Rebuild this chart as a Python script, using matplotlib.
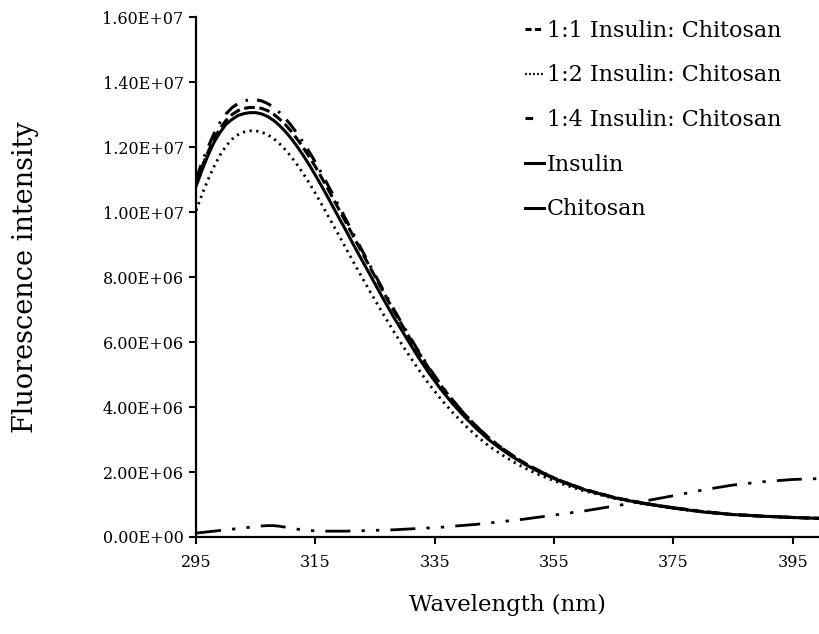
import matplotlib
matplotlib.use("Agg")
import matplotlib.pyplot as plt
from matplotlib.lines import Line2D
import numpy as np

wavelength = [295, 296, 297, 298, 299, 300, 301, 302, 303, 304, 305, 306, 307, 308, 309,
              310, 311, 312, 313, 314, 315, 316, 317, 318, 319, 320,
              322, 324, 326, 328, 330, 332, 334, 336, 338, 340, 342, 344, 346, 348, 350,
              352, 354, 356, 358, 360, 365, 370, 375, 380, 385, 390, 395, 400]

ratio_1_1 = [1.090, 1.140, 1.185, 1.225, 1.257, 1.282, 1.300, 1.312, 1.319, 1.322, 1.322, 1.319,
             1.312, 1.301, 1.286, 1.268, 1.247, 1.223, 1.197, 1.169, 1.139, 1.107, 1.074, 1.040,
             1.006, 0.972, 0.903, 0.835, 0.767, 0.700, 0.637, 0.576, 0.519, 0.467, 0.420, 0.378,
             0.340, 0.306, 0.277, 0.251, 0.228, 0.208, 0.190, 0.174, 0.160, 0.147, 0.122, 0.104,
             0.090, 0.078, 0.069, 0.064, 0.060, 0.057]

ratio_1_2 = [1.005, 1.055, 1.100, 1.140, 1.175, 1.203, 1.224, 1.238, 1.246, 1.250, 1.250, 1.246,
             1.238, 1.226, 1.210, 1.191, 1.169, 1.144, 1.117, 1.088, 1.057, 1.025, 0.992, 0.959,
             0.926, 0.892, 0.825, 0.760, 0.697, 0.636, 0.578, 0.523, 0.471, 0.425, 0.383, 0.345,
             0.311, 0.281, 0.256, 0.233, 0.213, 0.195, 0.180, 0.166, 0.153, 0.142, 0.119, 0.102,
             0.088, 0.077, 0.069, 0.064, 0.060, 0.057]

ratio_1_4 = [1.100, 1.155, 1.200, 1.242, 1.276, 1.302, 1.321, 1.334, 1.342, 1.346, 1.346, 1.342,
             1.334, 1.322, 1.306, 1.287, 1.265, 1.240, 1.213, 1.184, 1.153, 1.120, 1.086, 1.051,
             1.016, 0.981, 0.910, 0.841, 0.772, 0.705, 0.641, 0.580, 0.522, 0.469, 0.421, 0.378,
             0.340, 0.306, 0.277, 0.251, 0.228, 0.208, 0.190, 0.174, 0.160, 0.147, 0.122, 0.104,
             0.090, 0.078, 0.069, 0.064, 0.060, 0.057]

insulin = [1.080, 1.130, 1.175, 1.215, 1.245, 1.270, 1.285, 1.297, 1.303, 1.306, 1.306, 1.302,
           1.294, 1.282, 1.266, 1.247, 1.225, 1.200, 1.173, 1.144, 1.113, 1.081, 1.048, 1.014,
           0.980, 0.947, 0.878, 0.812, 0.745, 0.680, 0.620, 0.560, 0.505, 0.455, 0.410, 0.370,
           0.333, 0.300, 0.272, 0.247, 0.225, 0.205, 0.188, 0.172, 0.158, 0.146, 0.121, 0.103,
           0.089, 0.077, 0.069, 0.064, 0.060, 0.057]

chitosan = [0.012, 0.014, 0.016, 0.018, 0.020, 0.022, 0.024, 0.026, 0.028, 0.030, 0.032, 0.034,
            0.035, 0.035, 0.033, 0.030, 0.027, 0.024, 0.022, 0.020, 0.019, 0.018, 0.018, 0.018,
            0.018, 0.018, 0.019, 0.020, 0.021, 0.022, 0.024, 0.026, 0.028, 0.030, 0.033, 0.036,
            0.039, 0.043, 0.047, 0.051, 0.055, 0.060, 0.065, 0.070, 0.075, 0.080, 0.095, 0.110,
            0.127, 0.145, 0.160, 0.170, 0.177, 0.180]

scale = 1e7
labels = ["1:1 Insulin: Chitosan", "1:2 Insulin: Chitosan", "1:4 Insulin: Chitosan",
          "Insulin", "Chitosan"]
yticks = [0, 2e6, 4e6, 6e6, 8e6, 1e7, 1.2e7, 1.4e7, 1.6e7]
ytick_labels = ["0.00E+00", "2.00E+06", "4.00E+06", "6.00E+06", "8.00E+06",
                "1.00E+07", "1.20E+07", "1.40E+07", "1.60E+07"]
xticks = [295, 315, 335, 355, 375, 395]

plt.rcParams['font.family'] = ['DejaVu Serif']

fig = plt.figure(figsize=(8.19, 6.34), dpi=100)
ax = fig.add_axes([0.2395, 0.153, 0.7605, 0.820])

wl = np.array(wavelength)
ax.plot(wl, np.array(ratio_1_1) * scale, color='black', lw=2.2, linestyle=(0, (3.5, 1.5)))
ax.plot(wl, np.array(ratio_1_2) * scale, color='black', lw=2.0, linestyle=(0, (0.8, 1.6)))
ax.plot(wl, np.array(ratio_1_4) * scale, color='black', lw=2.2, linestyle=(0, (5, 3, 0.8, 3)))
ax.plot(wl, np.array(insulin) * scale, color='black', lw=2.2, linestyle='-')
ax.plot(wl, np.array(chitosan) * scale, color='black', lw=2.0,
        linestyle=(0, (9, 4, 1.2, 4, 1.2, 4)))

ax.set_xlim(295, 399.4)
ax.set_ylim(0, 1.6e7)
ax.set_xticks(xticks)
ax.set_xticklabels([str(t) for t in xticks], fontsize=11.5)
ax.set_yticks(yticks)
ax.set_yticklabels(ytick_labels, fontsize=11.5)
ax.tick_params(direction='out', length=5, width=1.5, color='black', pad=4)
ax.tick_params(axis='x', pad=7)
for s in ['top', 'right']:
    ax.spines[s].set_visible(False)
for s in ['left', 'bottom']:
    ax.spines[s].set_linewidth(1.6)
ax.set_ylabel("Fluorescence intensity", fontsize=19.5)
ax.yaxis.set_label_coords(-0.274, 0.5)
ax.set_xlabel("Wavelength (nm)", fontsize=16.5)
ax.xaxis.set_label_coords(0.5, -0.131)
ax.xaxis.label.set_va('center')
ax.yaxis.label.set_va('center')

handles = [
    Line2D([], [], color='black', lw=2.2, linestyle=(0, (2.0, 1.1))),
    Line2D([], [], color='black', lw=1.6, linestyle=(0, (0.8, 1.0))),
    Line2D([], [], color='black', lw=2.2, linestyle=(0, (2.5, 12))),
    Line2D([], [], color='black', lw=2.2, linestyle='-'),
    Line2D([], [], color='black', lw=2.2, linestyle='-'),
]
ax.legend(handles, labels, loc='upper left', bbox_to_anchor=(0.528, 0.995), frameon=False,
          fontsize=16, handlelength=0.85, handletextpad=0.12, labelspacing=1.02,
          borderpad=0, borderaxespad=0)

fig.savefig("out.png", dpi=100)
